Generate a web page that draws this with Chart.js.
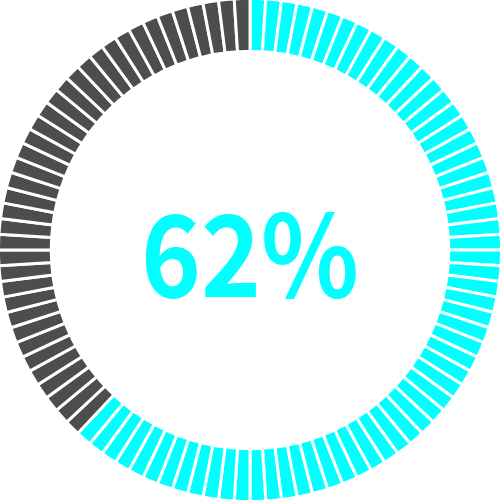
<!DOCTYPE html>
<html>
<head>
<meta charset="utf-8">
<script src="https://cdn.jsdelivr.net/npm/chart.js@4/dist/chart.umd.min.js"></script>
<style>
html,body{margin:0;padding:0;background:#fff;overflow:hidden;}
#wrap{position:relative;width:500px;height:500px;overflow:hidden;}
#c{position:absolute;left:-3px;top:-3px;}
</style>
</head>
<body>
<div id="wrap"><canvas id="c" width="506" height="506"></canvas></div>
<script>
const percentValue = [62];
const segmentCount = [100];
const labels = ["filled", "empty"];
const colors = ["#00FFFF", "#4D4D4D"];

const n = segmentCount[0];
const segData = [];
const segColors = [];
const segLabels = [];
for (let i = 0; i < n; i++) {
  segData.push(1);
  const filled = i < percentValue[0];
  segColors.push(filled ? colors[0] : colors[1]);
  segLabels.push(filled ? labels[0] : labels[1]);
}

const centerText = {
  id: 'centerText',
  afterDraw(chart) {
    const ctx = chart.ctx;
    const arc = chart.getDatasetMeta(0).data[0];
    const txt = percentValue[0] + '%';
    const targetH = 86, targetW = 211;
    ctx.save();
    ctx.font = 'bold 100px "Noto Sans CJK SC"';
    const m = ctx.measureText(txt);
    const h100 = m.actualBoundingBoxAscent + m.actualBoundingBoxDescent;
    const size = 100 * targetH / h100;
    ctx.font = 'bold ' + size + 'px "Noto Sans CJK SC"';
    const m2 = ctx.measureText(txt);
    const w = m2.actualBoundingBoxLeft + m2.actualBoundingBoxRight;
    const sx = targetW / w;
    ctx.fillStyle = colors[0];
    ctx.textAlign = 'center';
    ctx.textBaseline = 'alphabetic';
    ctx.translate(arc.x, arc.y + 47);
    ctx.scale(sx, 1);
    ctx.fillText(txt, 0, 0);
    ctx.restore();
  }
};

new Chart(document.getElementById('c'), {
  type: 'doughnut',
  data: {
    labels: segLabels,
    datasets: [{
      data: segData,
      backgroundColor: segColors,
      borderColor: '#ffffff',
      borderWidth: 3,
      hoverOffset: 0
    }]
  },
  options: {
    responsive: false,
    animation: false,
    cutout: '79%',
    layout: { padding: 0 },
    plugins: { legend: { display: false }, tooltip: { enabled: false } }
  },
  plugins: [centerText]
});
</script>
</body>
</html>
